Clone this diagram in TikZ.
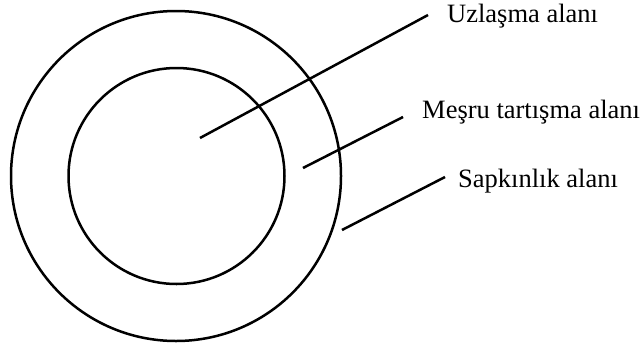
\documentclass[tikz,border=0pt]{standalone}
\usepackage{fontspec}
\setmainfont{Liberation Serif}
\begin{document}
\begin{tikzpicture}[x=1pt,y=-1pt,
  ring/.style={draw=black,line width=2.5pt},
  leader/.style={draw=black,line width=2.5pt},
  lbl/.style={anchor=base west,inner sep=0pt,font=\fontsize{26.5}{29}\selectfont}]
\useasboundingbox (0,0) rectangle (644,343);
\draw[ring] (176,176) circle[radius=165];
\draw[ring] (176.5,176) circle[radius=108];
\node[lbl] (uz) at (447,22) {Uzlaşma alanı};
\node[lbl] (me) at (422,118.5) {Meşru tartışma alanı};
\node[lbl] (sa) at (458,187) {Sapkınlık alanı};
\coordinate (a1) at (200,138);
\coordinate (b1) at (428,15);
\coordinate (a2) at (303,168);
\coordinate (b2) at (403,117);
\coordinate (a3) at (342,230);
\coordinate (b3) at (445,177);
\draw[leader] (a1) -- (b1);
\draw[leader] (a2) -- (b2);
\draw[leader] (a3) -- (b3);
\end{tikzpicture}
\end{document}
